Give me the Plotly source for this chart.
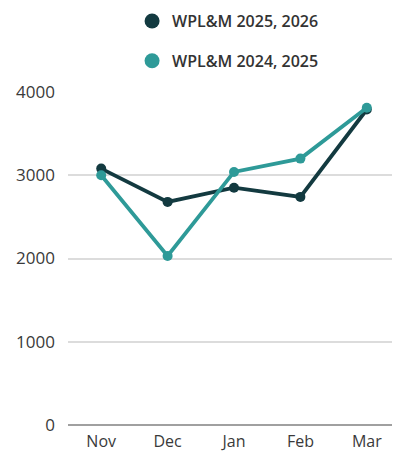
import plotly.graph_objects as go

months = ["Nov", "Dec", "Jan", "Feb", "Mar"]
wplm_2025_2026 = [3080, 2680, 2850, 2740, 3790]
wplm_2024_2025 = [3000, 2030, 3040, 3200, 3810]
series_names = ["WPL&M 2025, 2026", "WPL&M 2024, 2025"]
y_ticks = [0, 1000, 2000, 3000, 4000]

dark = "#133a40"
teal = "#2e9a98"

fig = go.Figure()
for vals, name, col in [(wplm_2025_2026, series_names[0], dark),
                        (wplm_2024_2025, series_names[1], teal)]:
    fig.add_trace(go.Scatter(
        x=months, y=vals, mode="lines+markers", name=name,
        line=dict(color=col, width=3.8), marker=dict(color=col, size=10),
        showlegend=False, cliponaxis=False,
    ))
for name, col in [(series_names[0], dark), (series_names[1], teal)]:
    fig.add_trace(go.Scatter(
        x=[None], y=[None], mode="markers", name=name, legendgroup=name,
        marker=dict(color=col, size=15),
    ))

fig.update_layout(
    width=400, height=454,
    margin=dict(l=60, r=8, t=84, b=37, autoexpand=False),
    paper_bgcolor="white", plot_bgcolor="white",
    font=dict(family="Open Sans, sans-serif", color="#3a3a3a", size=15),
    legend=dict(
        x=0.193, y=1.264,
        xanchor="left", yanchor="top", orientation="v",
        tracegroupgap=16, font=dict(size=16, color="#333333", weight=600),
        itemwidth=30,
    ),
    xaxis=dict(type="category", range=[-0.5, 4.5], showgrid=False,
               showline=False, zeroline=False, ticks="",
               ticklabelstandoff=5,
               tickfont=dict(size=16, color="#3a3a3a", weight=500)),
    yaxis=dict(range=[0, 4000], tickvals=y_ticks, showgrid=True,
               gridcolor="#dcdcdc", gridwidth=1.5, zeroline=True,
               zerolinecolor="#a0a0a0", zerolinewidth=2, ticks="",
               ticklabelstandoff=12,
               tickfont=dict(size=17, color="#3a3a3a", weight=500)),
)

fig.write_html("out.html")
